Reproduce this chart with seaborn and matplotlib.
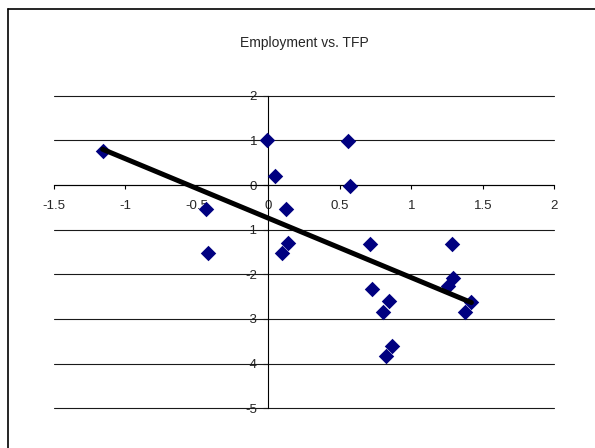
import matplotlib
matplotlib.use("Agg")
import matplotlib.pyplot as plt
from matplotlib.lines import Line2D
import seaborn as sns
import pandas as pd

# TFP growth (x) and employment growth (y)
tfp = [-1.16, -0.01, 0.046, -0.44, 0.123, -0.425, 0.14, 0.093, 0.555, 0.571,
       0.711, 1.283, 1.29, 1.255, 0.725, 0.846, 0.804, 1.42, 1.376, 0.863, 0.82]
employment = [0.77, 1.0, 0.21, -0.54, -0.54, -1.52, -1.29, -1.52, 0.985, -0.02,
              -1.31, -1.32, -2.09, -2.26, -2.32, -2.59, -2.84, -2.61, -2.85, -3.6, -3.83]

x_ticks = [-1.5, -1, -0.5, 0, 0.5, 1, 1.5, 2]
x_tick_labels = ["-1.5", "-1", "-0.5", "0", "0.5", "1", "1.5", "2"]
y_ticks = [-5, -4, -3, -2, -1, 0, 1, 2]
y_tick_labels = ["-5", "-4", "-3", "-2", "-1", "0", "1", "2"]

df = pd.DataFrame({"tfp": tfp, "employment": employment})

sns.set_style("white")
plt.rcParams["font.family"] = ["Liberation Sans", "DejaVu Sans"]

fig = plt.figure(figsize=(5.95, 4.48), dpi=100)
ax = fig.add_axes([54 / 595, 1 - 408.3 / 448, 500.3 / 595, 312.6 / 448])

# horizontal gridlines at each integer level
for yv in y_ticks:
    ax.axhline(yv, color="#1a1a1a", lw=0.8, zorder=1, clip_on=False)

sns.scatterplot(data=df, x="tfp", y="employment", marker="D", s=62,
                color="#000080", edgecolor="#000080", linewidth=0,
                ax=ax, zorder=3, legend=False)

# linear trendline over the data range
sns.regplot(data=df, x="tfp", y="employment", scatter=False, ci=None,
            truncate=True, color="black", line_kws={"lw": 3.6, "zorder": 4},
            ax=ax)

ax.set_xlim(-1.5, 2)
ax.set_ylim(-5, 2)
ax.set_xlabel("")
ax.set_ylabel("")

# axes crossing at the origin
ax.spines["left"].set_position(("data", 0))
ax.spines["bottom"].set_position(("data", 0))
ax.spines["top"].set_visible(False)
ax.spines["right"].set_visible(False)
for side in ("left", "bottom"):
    ax.spines[side].set_color("black")
    ax.spines[side].set_linewidth(0.8)
    ax.spines[side].set_zorder(2)

ax.set_xticks(x_ticks)
ax.set_xticklabels(x_tick_labels)
ax.set_yticks(y_ticks)
ax.set_yticklabels(y_tick_labels)
ax.tick_params(axis="x", direction="out", length=3, width=0.8, color="black",
               pad=7.5, labelsize=9.5, bottom=True)
ax.tick_params(axis="y", direction="out", length=3.6, width=0.8, color="black",
               pad=4.6, labelsize=9.5, left=True)
for lbl in ax.get_xticklabels() + ax.get_yticklabels():
    lbl.set_zorder(5)

fig.text(304.5 / 595, 1 - 43 / 448, "Employment vs. TFP", ha="center",
         va="center", fontsize=10)

# chart frame
fig.add_artist(Line2D([7.5 / 595, 7.5 / 595], [0, 1 - 9 / 448],
                      transform=fig.transFigure, color="black", lw=1.2))
fig.add_artist(Line2D([7.5 / 595, 1], [1 - 9 / 448, 1 - 9 / 448],
                      transform=fig.transFigure, color="black", lw=1.2))

fig.savefig("out.png", dpi=100)
